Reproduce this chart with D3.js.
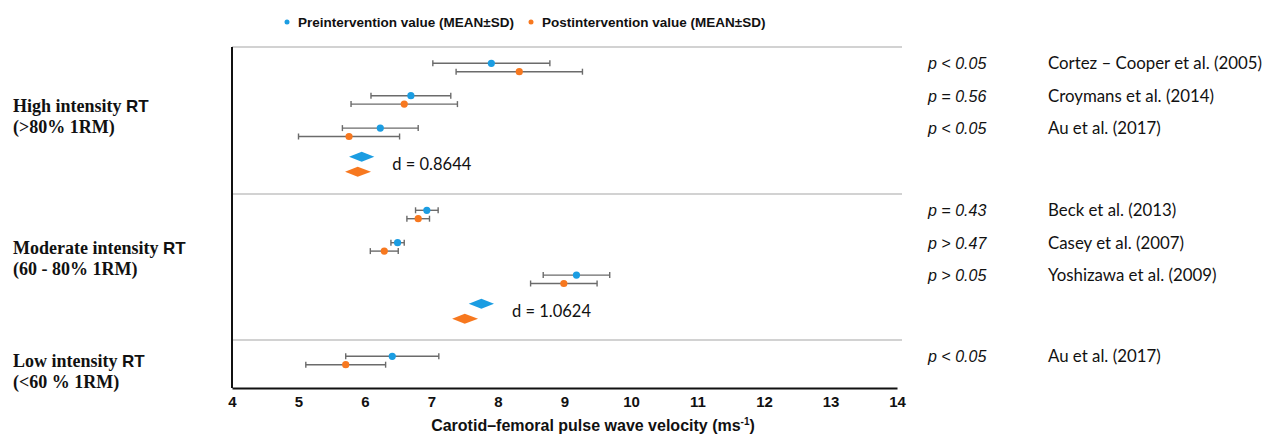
<!DOCTYPE html>
<html>
<head>
<meta charset="utf-8">
<script src="https://cdn.jsdelivr.net/npm/d3@7"></script>
<style>
  body { margin: 0; background: #fff; }
  svg { display: block; }
</style>
</head>
<body>
<svg width="1267" height="435"></svg>
<script>
// ===== data =====
var groupNames = ["High intensity", "Moderate intensity", "Low intensity"];
var groupRanges = ["(>80% 1RM)", "(60 - 80% 1RM)", "(<60 % 1RM)"];

var studies = ["Cortez \u2013 Cooper et al. (2005)", "Croymans et al. (2014)", "Au et al. (2017)",
               "Beck et al. (2013)", "Casey et al. (2007)", "Yoshizawa et al. (2009)", "Au et al. (2017)"];
var studyGroup = [0, 0, 0, 1, 1, 1, 2];
var pValues = ["p < 0.05", "p = 0.56", "p < 0.05", "p = 0.43", "p > 0.47", "p > 0.05", "p < 0.05"];

var preMean = [7.90, 6.69, 6.23, 6.93, 6.49, 9.18, 6.41];
var preSD = [0.88, 0.60, 0.57, 0.17, 0.10, 0.50, 0.70];
var postMean = [8.32, 6.59, 5.76, 6.80, 6.29, 8.99, 5.71];
var postSD = [0.95, 0.80, 0.76, 0.17, 0.21, 0.50, 0.60];

// pooled estimates (diamonds) per group: [low, mean, high]
var pooledGroup = [0, 1];
var pooledPre = [[5.76, 5.95, 6.14], [7.56, 7.75, 7.94]];
var pooledPost = [[5.70, 5.89, 6.09], [7.31, 7.50, 7.70]];
var effectSize = ["d = 0.8644", "d = 1.0624"];

var xTicks = [4, 5, 6, 7, 8, 9, 10, 11, 12, 13, 14];

// ===== layout =====
var svg = d3.select("svg");
var blue = "#1b9de2", orange = "#f7781f", barColor = "#6b6b6b";
var plotLeft = 232, plotRight = 897, lineRight = 902;
var groupTop = [47, 194, 340], axisY = 388;
var rowStep = 32.4, rowOffset = 20.5;

var x = d3.scaleLinear().domain([4, 14]).range([plotLeft, plotRight]);

function rowY(i) {
    var g = studyGroup[i];
    var idx = studyGroup.slice(0, i).filter(function(v) { return v === g; }).length;
    return groupTop[g] + rowOffset + idx * rowStep;
}
function pooledY(g) {
    var n = studyGroup.filter(function(v) { return v === g; }).length;
    return groupTop[g] + rowOffset + n * rowStep - 0.5;
}

// separator lines
svg.append("g").selectAll("line")
    .data(groupTop)
    .enter().append("line")
    .attr("x1", plotLeft).attr("x2", lineRight)
    .attr("y1", function(d) { return d; }).attr("y2", function(d) { return d; })
    .attr("stroke", "#d2d2d2").attr("stroke-width", 2);

// left axis line
svg.append("line")
    .attr("x1", plotLeft).attr("x2", plotLeft)
    .attr("y1", groupTop[0]).attr("y2", axisY)
    .attr("stroke", "#111").attr("stroke-width", 2);

// x axis
var xAxis = svg.append("g")
    .attr("transform", "translate(0," + axisY + ")")
    .call(d3.axisBottom(x).tickValues(xTicks).tickSize(0).tickPadding(8).tickFormat(d3.format("d")));
xAxis.select(".domain").attr("stroke", "#111").attr("stroke-width", 2.2);
xAxis.selectAll("text")
    .attr("font-family", "Liberation Sans, Arial, sans-serif")
    .attr("font-size", 15).attr("font-weight", "bold").attr("fill", "#111");

var title = svg.append("text")
    .attr("x", 593).attr("y", 431)
    .attr("text-anchor", "middle")
    .attr("font-family", "Liberation Sans, Arial, sans-serif")
    .attr("font-size", 16).attr("font-weight", "bold").attr("fill", "#111");
title.append("tspan").text("Carotid\u2013femoral pulse wave velocity (ms");
title.append("tspan").attr("font-size", 10).attr("dy", -6).text("-1");
title.append("tspan").attr("dy", 6).text(")");

// error bars + points
var series = [
    { mean: preMean, sd: preSD, color: blue, dy: -4.2 },
    { mean: postMean, sd: postSD, color: orange, dy: 4.2 }
];

series.forEach(function(s) {
    var g = svg.append("g");
    var rows = g.selectAll("g")
        .data(studies.map(function(name, i) { return i; }))
        .enter().append("g")
        .attr("transform", function(i) { return "translate(0," + (rowY(i) + s.dy) + ")"; });

    rows.append("line")
        .attr("x1", function(i) { return x(s.mean[i] - s.sd[i]); })
        .attr("x2", function(i) { return x(s.mean[i] + s.sd[i]); })
        .attr("stroke", barColor).attr("stroke-width", 1.4);
    [-1, 1].forEach(function(sign) {
        rows.append("line")
            .attr("x1", function(i) { return x(s.mean[i] + sign * s.sd[i]); })
            .attr("x2", function(i) { return x(s.mean[i] + sign * s.sd[i]); })
            .attr("y1", -3).attr("y2", 3)
            .attr("stroke", barColor).attr("stroke-width", 1.4);
    });
    rows.append("circle")
        .attr("cx", function(i) { return x(s.mean[i]); })
        .attr("r", 3.6)
        .attr("fill", s.color);
});

// pooled diamonds
function diamond(d, cy) {
    return "M" + x(d[0]) + "," + cy + "L" + x(d[1]) + "," + (cy - 5) +
           "L" + x(d[2]) + "," + cy + "L" + x(d[1]) + "," + (cy + 5) + "Z";
}
var pooled = svg.append("g").selectAll("g")
    .data(pooledGroup)
    .enter().append("g");
pooled.append("path")
    .attr("d", function(g, k) { return diamond(pooledPre[k], pooledY(g) - 7.5); })
    .attr("fill", blue);
pooled.append("path")
    .attr("d", function(g, k) { return diamond(pooledPost[k], pooledY(g) + 7.5); })
    .attr("fill", orange);
pooled.append("text")
    .attr("x", function(g, k) { return x(Math.max(pooledPre[k][2], pooledPost[k][2])) + 18; })
    .attr("y", function(g) { return pooledY(g); })
    .attr("dy", "0.35em")
    .attr("font-family", "Lato, Open Sans, sans-serif")
    .attr("font-size", 16.5).attr("fill", "#111")
    .text(function(g, k) { return effectSize[k]; });

// right-side labels
var right = svg.append("g").selectAll("g")
    .data(studies.map(function(name, i) { return i; }))
    .enter().append("g")
    .attr("transform", function(i) { return "translate(0," + (rowY(i) - 4) + ")"; });
right.append("text")
    .attr("x", 928).attr("dy", "0.35em")
    .attr("font-family", "Liberation Sans, Arial, sans-serif")
    .attr("font-size", 16).attr("font-style", "italic").attr("fill", "#111")
    .text(function(i) { return pValues[i]; });
var studyText = right.append("text")
    .attr("x", 1048).attr("dy", "0.35em")
    .attr("font-family", "Lato, Open Sans, sans-serif")
    .attr("font-size", 17).attr("fill", "#111")
    .text(function(i) { return studies[i]; });

// shrink study names so the longest one ends where it does in the picture (~1264px)
var longest = d3.max(studyText.nodes(), function(n) { return n.getComputedTextLength(); });
if (longest > 214) studyText.attr("font-size", 17 * 214 / longest);

// group labels on the left
var gl = svg.append("g").selectAll("text")
    .data(groupNames)
    .enter().append("text")
    .attr("x", 13)
    .attr("y", function(d, g) { return [112, 254, 367][g]; })
    .attr("font-family", "Liberation Serif, Times New Roman, serif")
    .attr("font-size", 18).attr("font-weight", "bold").attr("fill", "#111");
gl.append("tspan").text(function(d) { return d + " "; });
gl.append("tspan").attr("font-family", "Liberation Sans, Arial, sans-serif").attr("font-size", 17).text("RT");
gl.append("tspan")
    .attr("x", 13).attr("dy", 21)
    .text(function(d, g) { return groupRanges[g]; });

// legend
var legendItems = [
    { label: "Preintervention value (MEAN\u00b1SD)", color: blue, x: 287 },
    { label: "Postintervention value (MEAN\u00b1SD)", color: orange, x: 531 }
];
var legend = svg.append("g").selectAll("g")
    .data(legendItems)
    .enter().append("g")
    .attr("transform", function(d) { return "translate(" + d.x + ",22)"; });
legend.append("circle").attr("r", 2.5).attr("fill", function(d) { return d.color; });
legend.append("text")
    .attr("x", 11).attr("dy", "0.35em")
    .attr("font-family", "Liberation Sans, Arial, sans-serif")
    .attr("font-size", 13.5).attr("font-weight", "bold").attr("fill", "#111")
    .text(function(d) { return d.label; });
</script>
</body>
</html>
